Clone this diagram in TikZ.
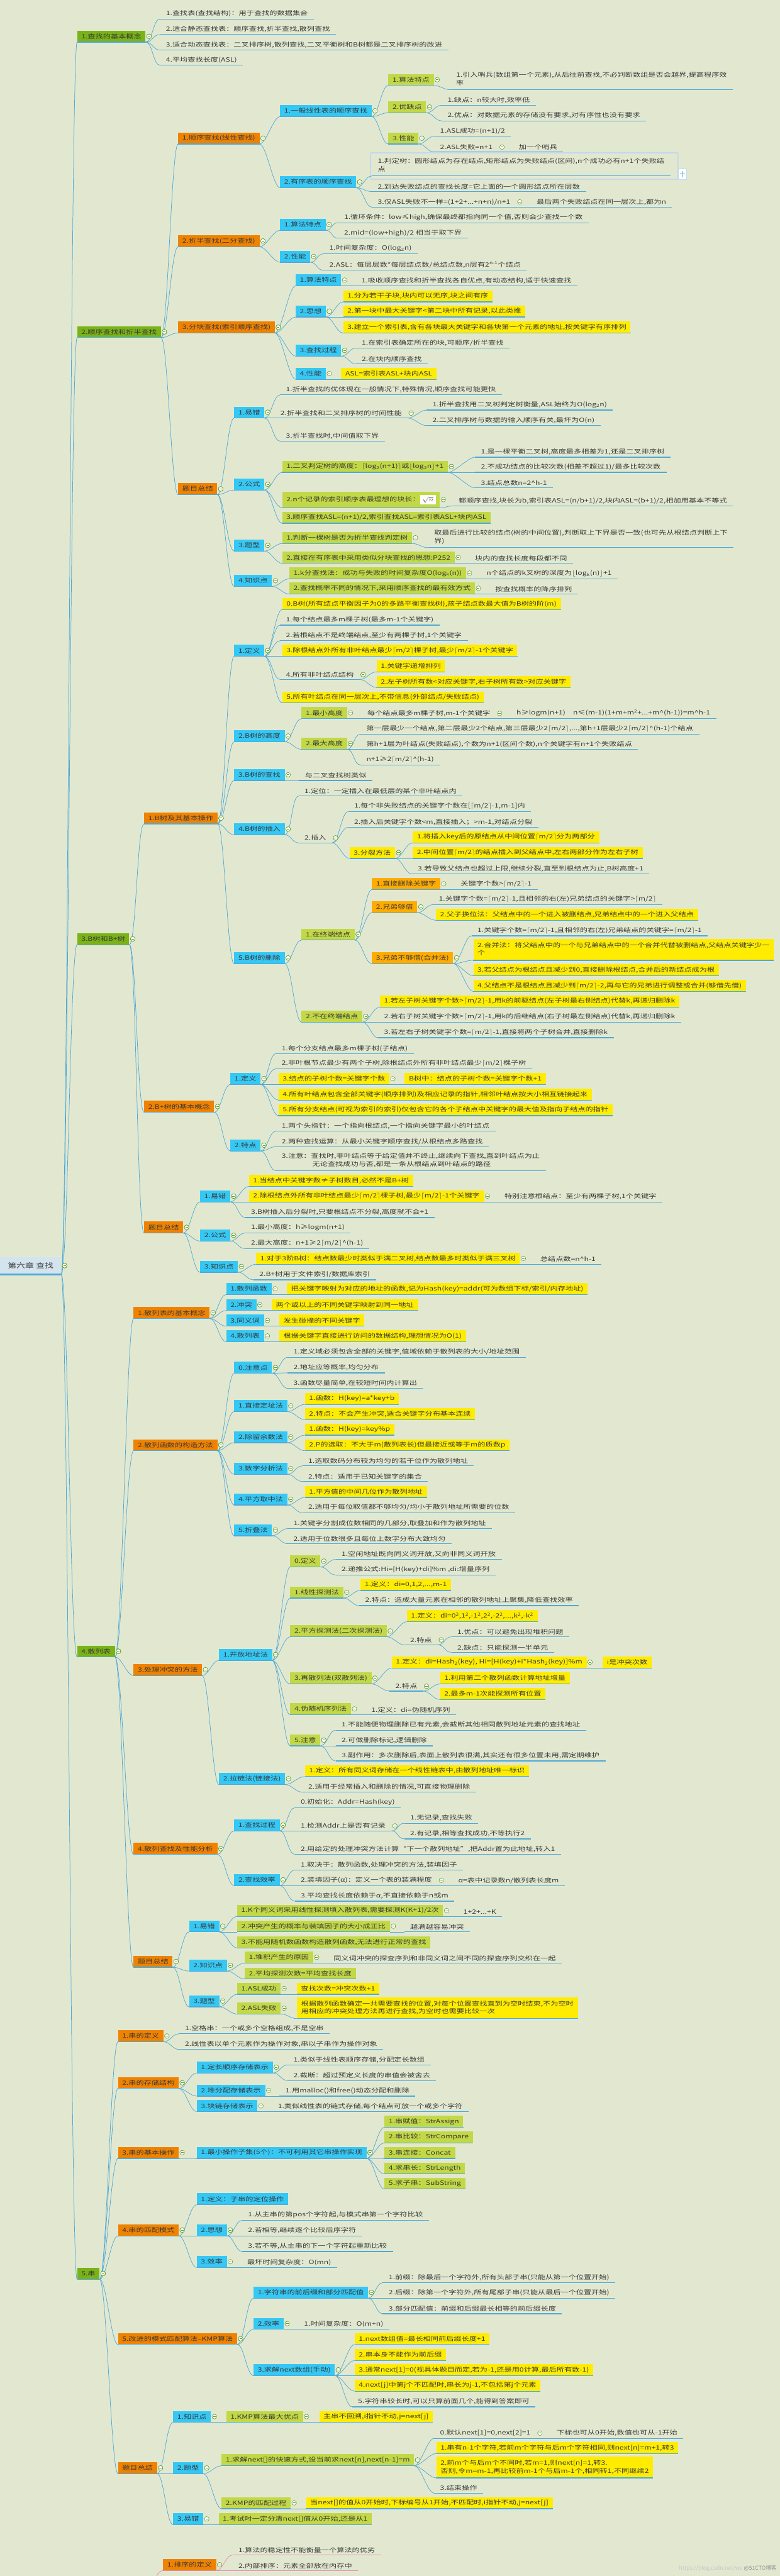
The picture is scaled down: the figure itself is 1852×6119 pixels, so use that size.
\documentclass[tikz,border=0pt]{standalone}
\usepackage{fontspec}
\setmainfont{Noto Sans CJK SC}
\usepackage{graphicx}
\usetikzlibrary{calc}
\definecolor{cBg}{HTML}{E2E8D0}
\definecolor{cGa}{HTML}{7AB317}
\definecolor{cOr}{HTML}{EF8200}
\definecolor{cCy}{HTML}{35C8F5}
\definecolor{cLg}{HTML}{C2D846}
\definecolor{cYe}{HTML}{FFEC00}
\definecolor{cLo}{HTML}{FFAB00}
\definecolor{cLn}{HTML}{4FA8D6}
\definecolor{cMk}{HTML}{5E9F26}
\definecolor{cTx}{HTML}{3A3A3A}
\definecolor{cRt}{HTML}{D4E4EF}
\definecolor{cPk}{HTML}{E58BB4}
\definecolor{cSel}{HTML}{C3D7EE}
\newsavebox\nodebox
\newcommand\myfs{\fontsize{14}{19}\selectfont}
\newcommand\mCl[1]{$\lceil$#1$\rceil$}
\newcommand\mFl[1]{$\lfloor$#1$\rfloor$}
\newcommand\mSup[1]{\textsuperscript{#1}}
\newcommand\mSub[1]{\textsubscript{#1}}
\newcommand\two[2]{\begin{tabular}{@{}l@{}}#1\\#2\end{tabular}}
\newcommand\cX[3]{%
 \draw[cn,draw=#1] (#2.south east) .. controls +(16,0) and +(-16,0) .. (#3.south west);
 \draw[ul,draw=#1] (#3.south west) -- (#3.south east);
 \draw[mkr] ([xshift=8pt]#2.east) circle[radius=5.5pt];
 \draw[mkm] ([xshift=5pt]#2.east) -- ([xshift=11pt]#2.east);}
\newcommand\cE[2]{\foreach \ch in {#2}{\cX{cLn}{#1}{\ch}}}
\newcommand\cP[2]{\foreach \ch in {#2}{\cX{cPk}{#1}{\ch}}}
\begin{document}
\begin{tikzpicture}[x=1pt,y=-1pt,
 wide/.style={execute at begin node={\setbox\nodebox=\hbox\bgroup}, execute at end node={\egroup\scalebox{1.3}[1]{\usebox\nodebox}}},
 base/.style={anchor=south west, text=cTx, font=\myfs, wide},
 bx/.style={base, minimum height=27pt, inner xsep=10pt, inner ysep=4pt},
 L1/.style={bx, fill=cGa},
 OR/.style={bx, fill=cOr},
 CY/.style={bx, fill=cCy},
 LG/.style={bx, fill=cLg},
 YE/.style={bx, fill=cYe},
 LO/.style={bx, fill=cLo},
 LF/.style={base, inner xsep=14pt, inner ysep=5pt},
 rootbox/.style={anchor=south west, fill=cRt, text=cTx, minimum width=145pt, minimum height=41pt, font={\fontsize{16}{20}\selectfont}, inner xsep=4pt, wide},
 cn/.style={line width=1.1pt},
 ul/.style={line width=1.8pt},
 mkr/.style={draw=cMk, fill=white, line width=0.9pt},
 mkm/.style={draw=cMk, line width=1.2pt}]
\fill[cBg] (0,0) rectangle (1852,6119);
\useasboundingbox (0,0) rectangle (1852,6119);

% root and level 1
\node[rootbox] (R) at (0,3027) {第六章\ 查找};
\node[L1] (A) at (183,100) {1.查找的基本概念};
\node[L1] (B) at (183,802) {2.顺序查找和折半查找};
\node[L1] (C) at (183,2244) {3.B树和B+树};
\node[L1] (D) at (183,3936) {4.散列表};
\node[L1] (E) at (183,5414) {5.串};
\coordinate (F1) at (372,6119);

% A
\node[LF] (a1) at (380,45) {1.查找表(查找结构)：用于查找的数据集合};
\node[LF] (a2) at (380,82) {2.适合静态查找表：顺序查找,折半查找,散列查找};
\node[LF] (a3) at (380,119) {3.适合动态查找表：二叉排序树,散列查找,二叉平衡树和B树都是二叉排序树的改进};
\node[LF] (a4) at (380,155) {4.平均查找长度(ASL)};

% B
\node[OR] (b1) at (423,342) {1.顺序查找(线性查找)};
\node[OR] (b2) at (423,586) {2.折半查找(二分查找)};
\node[OR] (b3) at (423,791) {3.分块查找(索引顺序查找)};
\node[OR] (b4) at (423,1175) {题目总结};
\node[CY] (b11) at (665,277) {1.一般线性表的顺序查找};
\node[LG] (b111) at (922,203) {1.算法特点};
\node[LF] (b1111) at (1069,213) {\two{1.引入哨兵(数组第一个元素),从后往前查找,不必判断数组是否会越界,提高程序效}{率}};
\node[LG] (b112) at (922,268) {2.优缺点};
\node[LF] (b1121) at (1049,250) {1.缺点：n较大时,效率低};
\node[LF] (b1122) at (1049,287) {2.优点：对数据元素的存储没有要求,对有序性也没有要求};
\node[LG] (b113) at (922,342) {3.性能};
\node[LF] (b1131) at (1031,324) {1.ASL成功=(n+1)/2};
\node[LF] (b1132) at (1031,361) {2.ASL失败=n+1};
\node[LF] (b11321) at ([xshift=34pt]b1132.south east) {加一个哨兵};
\node[CY] (b12) at (665,446) {2.有序表的顺序查找};
\draw[draw=cSel, line width=2.5pt, rounded corners=2pt] (880,363) rectangle (1610,426);
\draw[draw=cSel, fill=white, line width=1pt] (1611,401) rectangle (1631,426);
\draw[draw=cLn, line width=1.5pt] (1621,406) -- (1621,421) (1615,413.5) -- (1627,413.5);
\node[LF] (b121) at (883,418) {\two{1.判定树：圆形结点为存在结点,矩形结点为失败结点(区间),n个成功必有n+1个失败结}{点}};
\node[LF] (b122) at (883,455) {2.到达失败结点的查找长度=它上面的一个圆形结点所在层数};
\node[LF] (b123) at (883,492) {3.仅ASL失败不一样=(1+2+...+n+n)/n+1};
\node[LF] (b1231) at ([xshift=34pt]b123.south east) {最后两个失败结点在同一层次上,都为n};
\node[CY] (b21) at (665,547) {1.算法特点};
\node[LF] (b211) at (803,529) {1.循环条件：low≤high,确保最终都指向同一个值,否则会少查找一个数};
\node[LF] (b212) at (803,566) {2.mid=(low+high)/2 相当于取下界};
\node[CY] (b22) at (665,623) {2.性能};
\node[LF] (b221) at (768,603) {1.时间复杂度：O(log\mSub{2}n)};
\node[LF] (b222) at (768,642) {2.ASL：每层层数*每层结点数/总结点数,n层有2\mSup{n-1}个结点};
\node[CY] (b31) at (702,679) {1.算法特点};
\node[LF] (b311) at ([xshift=34pt]b31.south east) {1.吸收顺序查找和折半查找各自优点,有动态结构,适于快速查找};
\node[CY] (b32) at (702,753) {2.思想};
\node[YE] (b321) at (815,717) {1.分为若干子块,块内可以无序,块之间有序};
\node[YE] (b322) at (815,753) {2.第一块中最大关键字<第二块中所有记录,以此类推};
\node[YE] (b323) at (815,791) {3.建立一个索引表,含有各块最大关键字和各块第一个元素的地址,按关键字有序排列};
\node[CY] (b33) at (702,846) {3.查找过程};
\node[LF] (b331) at (845,827) {1.在索引表确定所在的块,可顺序/折半查找};
\node[LF] (b332) at (845,864) {2.在块内顺序查找};
\node[CY] (b34) at (702,901) {4.性能};
\node[YE] (b341) at ([xshift=36pt]b34.south east) {ASL=索引表ASL+块内ASL};
\node[CY] (b41) at (556,993) {1.易错};
\node[LF] (b411) at (665,938) {1.折半查找的优体现在一般情况下,特殊情况,顺序查找可能更快};
\node[LF] (b412) at ([xshift=24pt]b41.south east) {2.折半查找和二叉排序树的时间性能};
\node[LF] (b4121) at (1013,974) {1.折半查找用二叉树判定树衡量,ASL始终为O(log\mSub{2}n)};
\node[LF] (b4122) at (1013,1011) {2.二叉排序树与数据的输入顺序有关,最坏为O(n)};
\node[LF] (b413) at (665,1048) {3.折半查找时,中间值取下界};
\node[CY] (b42) at (556,1164) {2.公式};
\node[LG] (b421) at (670,1122) {1.二叉判定树的高度：\mCl{log\mSub{2}(n+1)}或\mFl{log\mSub{2}n}+1};
\node[LF] (b4211) at (1128,1086) {1.是一棵平衡二叉树,高度最多相差为1,还是二叉排序树};
\node[LF] (b4212) at (1128,1122) {2.不成功结点的比较次数(相差不超过1)/最多比较次数};
\node[LF] (b4213) at (1128,1159) {3.结点总数n=2\textasciicircum h-1};
\node[LG,minimum height=38pt] (b422) at (670,1206) {2.n个记录的索引顺序表最理想的块长：{\setlength\fboxsep{4pt}\colorbox{white}{$\sqrt{n}$}}};
\node[LF] (b4221) at (1075,1202) {都顺序查找,块长为b,索引表ASL=(n/b+1)/2,块内ASL=(b+1)/2,相加用基本不等式};
\node[LG] (b423) at (670,1243) {3.顺序查找ASL=(n+1)/2,索引查找ASL=索引表ASL+块内ASL};
\node[CY] (b43) at (556,1309) {3.题型};
\node[LG] (b431) at (670,1291) {1.判断一棵树是否为折半查找判定树};
\node[LF] (b4311) at (1017,1301) {\two{取最后进行比较的结点(树的中间位置),判断取上下界是否一致(也可先从根结点判断上下}{界)}};
\node[LG] (b432) at (670,1338) {2.直接在有序表中采用类似分块查找的思想:P252};
\node[LF] (b4321) at ([xshift=34pt]b432.south east) {块内的查找长度每段都不同};
\node[CY] (b44) at (556,1393) {4.知识点};
\node[LG] (b441) at (687,1375) {1.k分查找法：成功与失败的时间复杂度O(log\mSub{k}(n))};
\node[LF] (b4411) at ([xshift=34pt]b441.south east) {n个结点的k叉树的深度为\mFl{log\mSub{k}(n)}+1};
\node[LG] (b442) at (687,1411) {2.查找概率不同的情况下,采用顺序查找的最有效方式};
\node[LF] (b4421) at ([xshift=34pt]b442.south east) {按查找概率的降序排列};

% C
\node[OR] (c1) at (342,1957) {1.B树及其基本操作};
\node[OR] (c2) at (342,2642) {2.B+树的基本概念};
\node[OR] (c3) at (342,2929) {题目总结};
\node[CY] (c11) at (556,1559) {1.定义};
\node[YE] (c110) at (670,1448) {0.B树(所有结点平衡因子为0的多路平衡查找树),孩子结点数最大值为B树的阶(m)};
\node[LF] (c111) at (665,1485) {1.每个结点最多m棵子树(最多m-1个关键字)};
\node[LF] (c112) at (665,1522) {2.若根结点不是终端结点,至少有两棵子树,1个关键字};
\node[YE] (c113) at (670,1559) {3.除根结点外所有非叶结点最少\mCl{m/2}棵子树,最少\mCl{m/2}-1个关键字};
\node[LF] (c114) at (665,1614) {4.所有非叶结点结构};
\node[YE] (c1141) at (894,1596) {1.关键字递增排列};
\node[YE] (c1142) at (894,1633) {2.左子树所有数<对应关键字,右子树所有数>对应关键字};
\node[YE] (c115) at (670,1670) {5.所有叶结点在同一层次上,不带信息(外部结点/失败结点)};
\node[CY] (c12) at (556,1762) {2.B树的高度};
\node[LG] (c121) at (716,1707) {1.最小高度};
\node[LF] (c1211) at ([xshift=34pt]c121.south east) {每个结点最多m棵子树,m-1个关键字};
\node[LF] (c12111) at ([xshift=34pt]c1211.south east) {h≥logm(n+1)\quad n≤(m-1)(1+m+m\mSup{2}+...+m\textasciicircum(h-1))=m\textasciicircum h-1};
\node[LG] (c122) at (716,1780) {2.最大高度};
\node[LF] (c1221) at (856,1744) {第一层最少一个结点,第二层最少2个结点,第三层最少2\mCl{m/2},...,第h+1层最少2\mCl{m/2}\textasciicircum(h-1)个结点};
\node[LF] (c1222) at (856,1780) {第h+1层为叶结点(失败结点),个数为n+1(区间个数),n个关键字有n+1个失败结点};
\node[LF] (c1223) at (856,1817) {n+1≥2\mCl{m/2}\textasciicircum(h-1)};
\node[CY] (c13) at (556,1854) {3.B树的查找};
\node[LF] (c131) at ([xshift=34pt]c13.south east) {与二叉查找树类似};
\node[CY] (c14) at (556,1983) {4.B树的插入};
\node[LF] (c141) at (709,1891) {1.定位：一定插入在最低层的某个非叶结点内};
\node[LF] (c142) at (709,2002) {2.插入};
\node[LF] (c1421) at (827,1928) {1.每个非失败结点的关键字个数在[\mCl{m/2}-1,m-1]内};
\node[LF] (c1422) at (827,1965) {2.插入后关键字个数<m,直接插入；>m-1,对结点分裂};
\node[YE] (c1423) at (830,2039) {3.分裂方法};
\node[YE] (c14231) at (980,2002) {1.将插入key后的原结点从中间位置\mCl{m/2}分为两部分};
\node[YE] (c14232) at (980,2039) {2.中间位置\mCl{m/2}的结点插入到父结点中,左右两部分作为左右子树};
\node[LF] (c14233) at (978,2076) {3.若导致父结点也超过上限,继续分裂,直至到根结点为止,B树高度+1};
\node[CY] (c15) at (556,2289) {5.B树的删除};
\node[LG] (c151) at (716,2233) {1.在终端结点};
\node[LO] (c1511) at (883,2113) {1.直接删除关键字};
\node[LF] (c15111) at ([xshift=34pt]c1511.south east) {关键字个数>\mCl{m/2}-1};
\node[LO] (c1512) at (883,2168) {2.兄弟够借};
\node[LF] (c15121) at (1028,2149) {1.关键字个数=\mCl{m/2}-1,且相邻的右(左)兄弟结点的关键字>\mCl{m/2}};
\node[YE] (c15122) at (1035,2186) {2.父子换位法：父结点中的一个进入被删结点,兄弟结点中的一个进入父结点};
\node[LO] (c1513) at (883,2289) {3.兄弟不够借(合并法)};
\node[LF] (c15131) at (1120,2223) {1.关键字个数=\mCl{m/2}-1,且相邻的右(左)兄弟结点的关键字=\mCl{m/2}-1};
\node[YE,inner ysep=6pt] (c15132) at (1124,2281) {\two{2.合并法：将父结点中的一个与兄弟结点中的一个合并代替被删结点,父结点关键字少一}{个}};
\node[YE] (c15133) at (1124,2318) {3.若父结点为根结点且减少到0,直接删除根结点,合并后的新结点成为根};
\node[YE] (c15134) at (1124,2355) {4.父结点不是根结点且减少到\mCl{m/2}-2,再与它的兄弟进行调整或合并(够借先借)};
\node[LG] (c152) at (716,2428) {2.不在终端结点};
\node[YE] (c1521) at (902,2392) {1.若左子树关键字个数>\mCl{m/2}-1,用k的前驱结点(左子树最右侧结点)代替k,再递归删除k};
\node[LF] (c1522) at (898,2428) {2.若右子树关键字个数>\mCl{m/2}-1,用k的后继结点(右子树最左侧结点)代替k,再递归删除k};
\node[LF] (c1523) at (898,2465) {3.若左右子树关键字个数=\mCl{m/2}-1,直接将两个子树合并,直接删除k};
\node[CY] (c21) at (547,2576) {1.定义};
\node[LF] (c211) at (655,2503) {1.每个分支结点最多m棵子树(子结点)};
\node[LF] (c212) at (655,2539) {2.非叶根节点最少有两个子树,除根结点外所有非叶结点最少\mCl{m/2}棵子树};
\node[YE] (c213) at (661,2576) {3.结点的子树个数=关键字个数};
\node[YE] (c2131) at ([xshift=36pt]c213.south east) {B树中：结点的子树个数=关键字个数+1};
\node[YE] (c214) at (661,2613) {4.所有叶结点包含全部关键字(顺序排列)及相应记录的指针,相邻叶结点按大小相互链接起来};
\node[YE] (c215) at (661,2650) {5.所有分支结点(可视为索引的索引)仅包含它的各个子结点中关键字的最大值及指向子结点的指针};
\node[CY] (c22) at (547,2734) {2.特点};
\node[LF] (c221) at (655,2687) {1.两个头指针：一个指向根结点,一个指向关键字最小的叶结点};
\node[LF] (c222) at (655,2724) {2.两种查找运算：从最小关键字顺序查找/从根结点多路查找};
\node[LF] (c223) at (655,2781) {\two{3.注意：查找时,非叶结点等于给定值并不终止,继续向下查找,直到叶结点为止}{\hspace*{56pt}无论查找成功与否,都是一条从根结点到叶结点的路径}};
\node[CY] (c31) at (475,2855) {1.易错};
\node[YE] (c311) at (591,2818) {1.当结点中关键字数≠子树数目,必然不是B+树};
\node[YE] (c312) at (591,2855) {2.除根结点外所有非叶结点最少\mCl{m/2}棵子树,最少\mCl{m/2}-1个关键字};
\node[LF] (c3121) at ([xshift=34pt]c312.south east) {特别注意根结点：至少有两棵子树,1个关键字};
\node[LF] (c313) at (582,2892) {3.B树插入后分裂时,只要根结点不分裂,高度就不会+1};
\node[CY] (c32) at (475,2948) {2.公式};
\node[LF] (c321) at (582,2929) {1.最小高度：h≥logm(n+1)};
\node[LF] (c322) at (582,2966) {2.最大高度：n+1≥2\mCl{m/2}\textasciicircum(h-1)};
\node[CY] (c33) at (475,3022) {3.知识点};
\node[YE] (c331) at (608,3003) {1.对于3阶B树：结点数最少时类似于满二叉树,结点数最多时类似于满三叉树};
\node[LF] (c3311) at ([xshift=34pt]c331.south east) {总结点数=n\textasciicircum h-1};
\node[LF] (c332) at (602,3040) {2.B+树用于文件索引/数据库索引};

% D
\node[OR] (d1) at (317,3132) {1.散列表的基本概念};
\node[OR] (d2) at (317,3446) {2.散列函数的构造方法};
\node[OR] (d3) at (317,3980) {3.处理冲突的方法};
\node[OR] (d4) at (317,4405) {4.散列查找及性能分析};
\node[OR] (d5) at (317,4673) {题目总结};
\node[CY] (d11) at (537,3075) {1.散列函数};
\node[YE] (d111) at ([xshift=36pt]d11.south east) {把关键字映射为对应的地址的函数,记为Hash(key)=addr(可为数组下标/索引/内存地址)};
\node[CY] (d12) at (537,3113) {2.冲突};
\node[YE] (d121) at ([xshift=36pt]d12.south east) {两个或以上的不同关键字映射到同一地址};
\node[CY] (d13) at (537,3150) {3.同义词};
\node[YE] (d131) at ([xshift=36pt]d13.south east) {发生碰撞的不同关键字};
\node[CY] (d14) at (537,3187) {4.散列表};
\node[YE] (d141) at ([xshift=36pt]d14.south east) {根据关键字直接进行访问的数据结构,理想情况为O(1)};
\node[CY] (d21) at (556,3262) {0.注意点};
\node[LF] (d211) at (683,3224) {1.定义域必须包含全部的关键字,值域依赖于散列表的大小/地址范围};
\node[LF] (d212) at (683,3261) {2.地址应等概率,均匀分布};
\node[LF] (d213) at (683,3298) {3.函数尽量简单,在较短时间内计算出};
\node[CY] (d22) at (556,3353) {1.直接定址法};
\node[YE] (d221) at (724,3336) {1.函数：H(key)=a*key+b};
\node[YE] (d222) at (724,3372) {2.特点：不会产生冲突,适合关键字分布基本连续};
\node[CY] (d23) at (556,3427) {2.除留余数法};
\node[YE] (d231) at (724,3409) {1.函数：H(key)=key\%p};
\node[YE] (d232) at (724,3446) {2.P的选取：不大于m(散列表长)但最接近或等于m的质数p};
\node[CY] (d24) at (556,3502) {3.数字分析法};
\node[LF] (d241) at (718,3482) {1.选取数码分布较为均匀的若干位作为散列地址};
\node[LF] (d242) at (718,3519) {2.特点：适用于已知关键字的集合};
\node[CY] (d25) at (556,3575) {4.平方取中法};
\node[YE] (d251) at (724,3557) {1.平方值的中间几位作为散列地址};
\node[LF] (d252) at (718,3593) {2.适用于每位取值都不够均匀/均小于散列地址所需要的位数};
\node[CY] (d26) at (556,3648) {5.折叠法};
\node[LF] (d261) at (683,3631) {1.关键字分割成位数相同的几部分,取叠加和作为散列地址};
\node[LF] (d262) at (683,3667) {2.适用于位数很多且每位上数字分布大致均匀};
\node[CY] (d31) at (520,3944) {1.开放地址法};
\node[LG] (d311) at (689,3722) {0.定义};
\node[LF] (d3111) at (797,3704) {1.空闲地址既向同义词开放,又向非同义词开放};
\node[LF] (d3112) at (797,3741) {2.递推公式:Hi=[H(key)+di]\%m ,di:增量序列};
\node[LG] (d312) at (689,3796) {1.线性探测法};
\node[YE] (d3121) at (856,3778) {1.定义：di=0,1,2,...,m-1};
\node[LF] (d3122) at (853,3814) {2.特点：造成大量元素在相邻的散列地址上聚集,降低查找效率};
\node[LG] (d313) at (689,3888) {2.平方探测法(二次探测法)};
\node[YE] (d3131) at (966,3852) {1.定义：di=0\mSup{2},1\mSup{2},-1\mSup{2},2\mSup{2},-2\mSup{2},...,k\mSup{2},-k\mSup{2}};
\node[LF] (d3132) at (960,3907) {2.特点};
\node[LF] (d31321) at (1072,3888) {1.优点：可以避免出现堆积问题};
\node[LF] (d31322) at (1072,3925) {2.缺点：只能探测一半单元};
\node[LG] (d314) at (689,4000) {3.再散列法(双散列法)};
\node[YE] (d3141) at (930,3962) {1.定义：di=Hash\mSub{2}(key), Hi=[H(key)+i*Hash\mSub{2}(key)]\%m};
\node[YE] (d31411) at ([xshift=38pt]d3141.south east) {i是冲突次数};
\node[LF] (d3142) at (925,4017) {2.特点};
\node[YE] (d31421) at (1045,4000) {1.利用第二个散列函数计算地址增量};
\node[YE] (d31422) at (1045,4037) {2.最多m-1次能探测所有位置};
\node[LG] (d315) at (689,4073) {4.伪随机序列法};
\node[LF] (d3151) at ([xshift=34pt]d315.south east) {1.定义：di=伪随机序列};
\node[LG] (d316) at (689,4147) {5.注意};
\node[LF] (d3161) at (797,4110) {1.不能随便物理删除已有元素,会截断其他相同散列地址元素的查找地址};
\node[LF] (d3162) at (797,4147) {2.可做删除标记,逻辑删除};
\node[LF] (d3163) at (797,4183) {3.副作用：多次删除后,表面上散列表很满,其实还有很多位置未用,需定期维护};
\node[CY] (d32) at (520,4239) {2.拉链法(链接法)};
\node[YE] (d321) at (724,4220) {1.定义：所有同义词存储在一个线性链表中,由散列地址唯一标识};
\node[LF] (d322) at (718,4257) {2.适用于经常插入和删除的情况,可直接物理删除};
\node[CY] (d41) at (556,4349) {1.查找过程};
\node[LF] (d411) at (700,4294) {0.初始化：Addr=Hash(key)};
\node[LF] (d412) at (700,4349) {1.检测Addr上是否有记录};
\node[LF] (d4121) at (960,4331) {1.无记录,查找失败};
\node[LF] (d4122) at (960,4368) {2.有记录,相等查找成功,不等执行2};
\node[LF] (d413) at (700,4405) {2.用给定的处理冲突方法计算“下一个散列地址”,把Addr置为此地址,转入1};
\node[CY] (d42) at (556,4479) {2.查找效率};
\node[LF] (d421) at (700,4442) {1.取决于：散列函数,处理冲突的方法,装填因子};
\node[LF] (d422) at (700,4479) {2.装填因子(α)：定义一个表的装满程度};
\node[LF] (d4221) at ([xshift=34pt]d422.south east) {α=表中记录数n/散列表长度m};
\node[LF] (d423) at (700,4516) {3.平均查找长度依赖于α,不直接依赖于n或m};
\node[CY] (d51) at (449,4589) {1.易错};
\node[LG] (d511) at (563,4552) {1.K个同义词采用线性探测填入散列表,需要探测K(K+1)/2次};
\node[LF] (d5111) at ([xshift=34pt]d511.south east) {1+2+...+K};
\node[LG] (d512) at (563,4589) {2.冲突产生的概率与装填因子的大小成正比};
\node[LF] (d5121) at ([xshift=34pt]d512.south east) {越满越容易冲突};
\node[LG] (d513) at (563,4627) {3.不能用随机数函数构造散列函数,无法进行正常的查找};
\node[CY] (d52) at (449,4682) {2.知识点};
\node[LG] (d521) at (581,4663) {1.堆积产生的原因};
\node[LF] (d5211) at ([xshift=34pt]d521.south east) {同义词冲突的探查序列和非同义词之间不同的探查序列交织在一起};
\node[LG] (d522) at (581,4701) {2.平均探测次数=平均查找长度};
\node[CY] (d53) at (449,4767) {3.题型};
\node[LG] (d531) at (563,4737) {1.ASL成功};
\node[YE] (d5311) at ([xshift=38pt]d531.south east) {查找次数=冲突次数+1};
\node[LG] (d532) at (563,4784) {2.ASL失败};
\node[YE,inner ysep=6pt] (d5321) at (705,4795) {\two{根据散列函数确定一共需要查找的位置,对每个位置查找直到为空时结束,不为空时}{用相应的冲突处理方法再进行查找,为空时也需要比较一次}};

% E
\node[OR] (e1) at (280,4850) {1.串的定义};
\node[LF] (e11) at (425,4831) {1.空格串：一个或多个空格组成,不是空串};
\node[LF] (e12) at (425,4868) {2.线性表以单个元素作为操作对象,串以子串作为操作对象};
\node[OR] (e2) at (280,4961) {2.串的存储结构};
\node[CY] (e21) at (467,4924) {1.定长顺序存储表示};
\node[LF] (e211) at (683,4905) {1.类似于线性表顺序存储,分配定长数组};
\node[LF] (e212) at (683,4942) {2.截断：超过预定义长度的串值会被舍去};
\node[CY] (e22) at (467,4979) {2.堆分配存储表示};
\node[LF] (e221) at ([xshift=34pt]e22.south east) {1.用malloc()和free()动态分配和删除};
\node[CY] (e23) at (467,5016) {3.块链存储表示};
\node[LF] (e231) at ([xshift=34pt]e23.south east) {1.类似线性表的链式存储,每个结点可放一个或多个字符};
\node[OR] (e3) at (280,5127) {3.串的基本操作};
\node[CY] (e31) at (467,5127) {1.最小操作子集(5个)：不可利用其它串操作实现};
\node[LG] (e311) at (913,5053) {1.串赋值：StrAssign};
\node[LG] (e312) at (913,5090) {2.串比较：StrCompare};
\node[LG] (e313) at (913,5127) {3.串连接：Concat};
\node[LG] (e314) at (913,5164) {4.求串长：StrLength};
\node[LG] (e315) at (913,5200) {5.求子串：SubString};
\node[OR] (e4) at (280,5311) {4.串的匹配模式};
\node[CY] (e41) at (467,5237) {1.定义：子串的定位操作};
\node[CY] (e42) at (467,5311) {2.思想};
\node[LF] (e421) at (575,5274) {1.从主串的第pos个字符起,与模式串第一个字符比较};
\node[LF] (e422) at (575,5311) {2.若相等,继续逐个比较后序字符};
\node[LF] (e423) at (575,5348) {3.若不等,从主串的下一个字符起重新比较};
\node[CY] (e43) at (467,5386) {3.效率};
\node[LF] (e431) at ([xshift=34pt]e43.south east) {最坏时间复杂度：O(mn)};
\node[OR] (e5) at (280,5569) {5.改进的模式匹配算法--KMP算法};
\node[CY] (e51) at (602,5459) {1.字符串的前后缀和部分匹配值};
\node[LF] (e511) at (909,5422) {1.前缀：除最后一个字符外,所有头部子串(只能从第一个位置开始)};
\node[LF] (e512) at (909,5459) {2.后缀：除第一个字符外,所有尾部子串(只能从最后一个位置开始)};
\node[LF] (e513) at (909,5496) {3.部分匹配值：前缀和后缀最长相等的前后缀长度};
\node[CY] (e52) at (602,5533) {2.效率};
\node[LF] (e521) at ([xshift=34pt]e52.south east) {1.时间复杂度：O(m+n)};
\node[CY] (e53) at (602,5643) {3.求解next数组(手动)};
\node[YE] (e531) at (842,5569) {1.next数组值=最长相同前后缀长度+1};
\node[YE] (e532) at (842,5607) {2.串本身不能作为前后缀};
\node[YE] (e533) at (842,5643) {3.通常next[1]=0(视具体题目而定,若为-1,还是用0计算,最后所有数-1)};
\node[YE] (e534) at (842,5680) {4.next[j]中第j个不匹配时,串长为j-1,不包括第j个元素};
\node[LF] (e535) at (836,5717) {5.字符串较长时,可以只算前面几个,能得到答案即可};
\node[OR] (e6) at (280,5876) {题目总结};
\node[CY] (e61) at (411,5754) {1.知识点};
\node[LG] (e611) at ([xshift=36pt]e61.south east) {1.KMP算法最大优点};
\node[YE] (e6111) at ([xshift=38pt]e611.south east) {主串不回溯,i指针不动,j=next[j]};
\node[CY] (e62) at (411,5876) {2.题型};
\node[LG] (e621) at (526,5857) {1.求解next[]的快速方式,设当前求next[n],next[n-1]=m};
\node[LF] (e6211) at (1031,5792) {0.默认next[1]=0,next[2]=1};
\node[LF] (e62111) at ([xshift=34pt]e6211.south east) {下标也可从0开始,数值也可从-1开始};
\node[YE] (e6212) at (1036,5828) {1.串有n-1个字符,若前m个字符与后m个字符相同,则next[n]=m+1,转3};
\node[YE,inner ysep=6pt] (e6213) at (1036,5886) {\two{2.前m个与后m个不同时,若m=1,则next[n]=1,转3.}{否则,令m=m-1,再比较前m-1个与后m-1个,相同转1,不同继续2}};
\node[LF] (e6214) at (1031,5922) {3.结束操作};
\node[LG] (e622) at (526,5959) {2.KMP的匹配过程};
\node[YE] (e6221) at ([xshift=36pt]e622.south east) {当next[]的值从0开始时,下标编号从1开始,不匹配时,i指针不动,j=next[j]};
\node[CY] (e63) at (411,5997) {3.易错};
\node[LG] (e631) at ([xshift=36pt]e63.south east) {1.考试时一定分清next[]值从0开始,还是从1};

% F (sorting, cut off at the bottom)
\node[OR] (f1) at (387,6106) {1.排序的定义};
\node[LF] (f11) at (552,6069) {1.算法的稳定性不能衡量一个算法的优劣};
\node[LF] (f12) at (552,6106) {2.内部排序：元素全部放在内存中};

\node[anchor=south east, font={\fontsize{13}{15}\selectfont}, text=gray!45] (wm) at (1848,6112) {https://blog.csdn.net/we\ {\color{gray!85}@51CTO博客}};

% connectors
\cE{R}{A,B,C,D,E}
\draw[line width=5pt,draw=cLn] (R.south west) -- (R.south east);
\draw[cn,draw=cPk] (F1) .. controls +(2,-6) and +(-6,0) .. (f1.south west);
\draw[ul,draw=cPk] (f1.south west) -- (f1.south east);
\cP{f1}{f11,f12}
\cE{A}{a1,a2,a3,a4}
\cE{B}{b1,b2,b3,b4}
\cE{b1}{b11,b12}
\cE{b11}{b111,b112,b113}
\cE{b111}{b1111}
\cE{b112}{b1121,b1122}
\cE{b113}{b1131,b1132}
\cE{b1132}{b11321}
\cE{b12}{b121,b122,b123}
\cE{b123}{b1231}
\cE{b2}{b21,b22}
\cE{b21}{b211,b212}
\cE{b22}{b221,b222}
\cE{b3}{b31,b32,b33,b34}
\cE{b31}{b311}
\cE{b32}{b321,b322,b323}
\cE{b33}{b331,b332}
\cE{b34}{b341}
\cE{b4}{b41,b42,b43,b44}
\cE{b41}{b411,b412,b413}
\cE{b412}{b4121,b4122}
\cE{b42}{b421,b422,b423}
\cE{b421}{b4211,b4212,b4213}
\cE{b422}{b4221}
\cE{b43}{b431,b432}
\cE{b431}{b4311}
\cE{b432}{b4321}
\cE{b44}{b441,b442}
\cE{b441}{b4411}
\cE{b442}{b4421}
\cE{C}{c1,c2,c3}
\cE{c1}{c11,c12,c13,c14,c15}
\cE{c11}{c110,c111,c112,c113,c114,c115}
\cE{c114}{c1141,c1142}
\cE{c12}{c121,c122}
\cE{c121}{c1211}
\cE{c1211}{c12111}
\cE{c122}{c1221,c1222,c1223}
\cE{c13}{c131}
\cE{c14}{c141,c142}
\cE{c142}{c1421,c1422,c1423}
\cE{c1423}{c14231,c14232,c14233}
\cE{c15}{c151,c152}
\cE{c151}{c1511,c1512,c1513}
\cE{c1511}{c15111}
\cE{c1512}{c15121,c15122}
\cE{c1513}{c15131,c15132,c15133,c15134}
\cE{c152}{c1521,c1522,c1523}
\cE{c2}{c21,c22}
\cE{c21}{c211,c212,c213,c214,c215}
\cE{c213}{c2131}
\cE{c22}{c221,c222,c223}
\cE{c3}{c31,c32,c33}
\cE{c31}{c311,c312,c313}
\cE{c312}{c3121}
\cE{c32}{c321,c322}
\cE{c33}{c331,c332}
\cE{c331}{c3311}
\cE{D}{d1,d2,d3,d4,d5}
\cE{d1}{d11,d12,d13,d14}
\cE{d11}{d111}
\cE{d12}{d121}
\cE{d13}{d131}
\cE{d14}{d141}
\cE{d2}{d21,d22,d23,d24,d25,d26}
\cE{d21}{d211,d212,d213}
\cE{d22}{d221,d222}
\cE{d23}{d231,d232}
\cE{d24}{d241,d242}
\cE{d25}{d251,d252}
\cE{d26}{d261,d262}
\cE{d3}{d31,d32}
\cE{d31}{d311,d312,d313,d314,d315,d316}
\cE{d311}{d3111,d3112}
\cE{d312}{d3121,d3122}
\cE{d313}{d3131,d3132}
\cE{d3132}{d31321,d31322}
\cE{d314}{d3141,d3142}
\cE{d3141}{d31411}
\cE{d3142}{d31421,d31422}
\cE{d315}{d3151}
\cE{d316}{d3161,d3162,d3163}
\cE{d32}{d321,d322}
\cE{d4}{d41,d42}
\cE{d41}{d411,d412,d413}
\cE{d412}{d4121,d4122}
\cE{d42}{d421,d422,d423}
\cE{d422}{d4221}
\cE{d5}{d51,d52,d53}
\cE{d51}{d511,d512,d513}
\cE{d511}{d5111}
\cE{d512}{d5121}
\cE{d52}{d521,d522}
\cE{d521}{d5211}
\cE{d53}{d531,d532}
\cE{d531}{d5311}
\cE{d532}{d5321}
\cE{E}{e1,e2,e3,e4,e5,e6}
\cE{e1}{e11,e12}
\cE{e2}{e21,e22,e23}
\cE{e21}{e211,e212}
\cE{e22}{e221}
\cE{e23}{e231}
\cE{e3}{e31}
\cE{e31}{e311,e312,e313,e314,e315}
\cE{e4}{e41,e42,e43}
\cE{e42}{e421,e422,e423}
\cE{e43}{e431}
\cE{e5}{e51,e52,e53}
\cE{e51}{e511,e512,e513}
\cE{e52}{e521}
\cE{e53}{e531,e532,e533,e534,e535}
\cE{e6}{e61,e62,e63}
\cE{e61}{e611}
\cE{e611}{e6111}
\cE{e62}{e621,e622}
\cE{e621}{e6211,e6212,e6213,e6214}
\cE{e6211}{e62111}
\cE{e622}{e6221}
\cE{e63}{e631}
\end{tikzpicture}
\end{document}
